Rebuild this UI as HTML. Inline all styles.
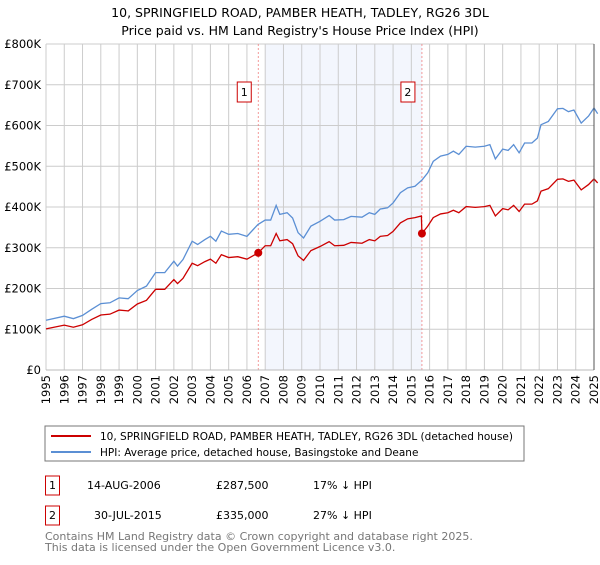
<!DOCTYPE html>
<html><head><meta charset="utf-8"><style>
body{margin:0;background:#fff;font-family:"Liberation Sans","DejaVu Sans",sans-serif;}
svg text{font-family:"DejaVu Sans","Liberation Sans",sans-serif;}
</style></head><body>
<svg id="c" width="600" height="560" viewBox="0 0 600 560">
<text x="300" y="17" text-anchor="middle" font-size="12.5">10, SPRINGFIELD ROAD, PAMBER HEATH, TADLEY, RG26 3DL</text>
<text x="300" y="35" text-anchor="middle" font-size="12.5">Price paid vs. HM Land Registry's House Price Index (HPI)</text>
<g id="plot"></g>
<rect x="45" y="426" width="479" height="35" fill="#fff" stroke="#777"/>
<line x1="51" y1="436" x2="91" y2="436" stroke="#cc0000" stroke-width="2"/>
<text x="100" y="440" font-size="10.5">10, SPRINGFIELD ROAD, PAMBER HEATH, TADLEY, RG26 3DL (detached house)</text>
<line x1="51" y1="452" x2="91" y2="452" stroke="#5b8fd4" stroke-width="2"/>
<text x="100" y="456" font-size="10.5">HPI: Average price, detached house, Basingstoke and Deane</text>
<rect x="45.5" y="476" width="14" height="19" fill="#fff" stroke="#cc0000"/>
<text x="52.5" y="489" text-anchor="middle" font-size="11">1</text>
<text x="87" y="489" font-size="11">14-AUG-2006</text>
<text x="216" y="489" font-size="11">£287,500</text>
<text x="313" y="489" font-size="11">17% ↓ HPI</text>
<rect x="45.5" y="506" width="14" height="19" fill="#fff" stroke="#cc0000"/>
<text x="52.5" y="519" text-anchor="middle" font-size="11">2</text>
<text x="94" y="519" font-size="11">30-JUL-2015</text>
<text x="216" y="519" font-size="11">£335,000</text>
<text x="313" y="519" font-size="11">27% ↓ HPI</text>
<text x="45" y="540" font-size="11" fill="#777">Contains HM Land Registry data © Crown copyright and database right 2025.</text>
<text x="45" y="551" font-size="11" fill="#777">This data is licensed under the Open Government Licence v3.0.</text>
</svg>
<script>
const hpiYears=[1995,1996,1996.5,1997,1997.5,1998,1998.5,1999,1999.5,2000,2000.5,2001,2001.5,2002,2002.2,2002.5,2003,2003.3,2003.7,2004,2004.3,2004.6,2005,2005.5,2006,2006.6,2007,2007.3,2007.6,2007.8,2008.2,2008.5,2008.8,2009.1,2009.5,2010,2010.5,2010.8,2011.3,2011.7,2012.3,2012.7,2013,2013.3,2013.7,2014,2014.4,2014.8,2015.2,2015.6,2015.9,2016.2,2016.6,2017,2017.3,2017.6,2018,2018.5,2019,2019.3,2019.6,2020,2020.3,2020.6,2020.9,2021.2,2021.6,2021.9,2022.1,2022.5,2023,2023.3,2023.6,2023.9,2024.3,2024.7,2025,2025.2];
const hpiValues=[122,132,126,134,149,163,165,177,175,195,206,239,239,267,255,271,316,308,320,328,316,341,333,335,328,357,368,368,404,382,386,373,337,324,353,365,379,368,369,377,375,386,382,395,398,410,435,447,451,467,484,512,525,529,537,529,549,547,549,553,518,542,539,553,533,557,557,569,602,610,641,642,634,638,606,623,643,629];
const priceYears=[1995,1996,1996.5,1997,1997.5,1998,1998.5,1999,1999.5,2000,2000.5,2001,2001.5,2002,2002.2,2002.5,2003,2003.3,2003.7,2004,2004.3,2004.6,2005,2005.5,2006,2006.62,2007,2007.3,2007.6,2007.8,2008.2,2008.5,2008.8,2009.1,2009.5,2010,2010.5,2010.8,2011.3,2011.7,2012.3,2012.7,2013,2013.3,2013.7,2014,2014.4,2014.8,2015.2,2015.55,2015.58,2015.9,2016.2,2016.6,2017,2017.3,2017.6,2018,2018.5,2019,2019.3,2019.6,2020,2020.3,2020.6,2020.9,2021.2,2021.6,2021.9,2022.1,2022.5,2023,2023.3,2023.6,2023.9,2024.3,2024.7,2025,2025.2];
const priceValues=[101,110,105,111,124,135,137,147,145,162,171,198,198,222,212,225,262,256,266,272,262,283,276,278,272,287.5,305,305,335,317,320,310,280,269,293,303,315,305,306,313,311,320,317,328,330,340,361,371,374,378,335,353,374,383,386,392,386,401,399,401,404,378,396,393,404,389,407,407,415,439,445,468,469,463,466,442,455,469,459];
const saleYears=[2006.62,2015.58];
const saleValues=[287.5,335];
const saleLabels=["1","2"];
const yTicks=[0,100,200,300,400,500,600,700,800];
const yTickLabels=["£0","£100K","£200K","£300K","£400K","£500K","£600K","£700K","£800K"];
const xTicks=[1995,1996,1997,1998,1999,2000,2001,2002,2003,2004,2005,2006,2007,2008,2009,2010,2011,2012,2013,2014,2015,2016,2017,2018,2019,2020,2021,2022,2023,2024,2025];

const L=46,R=594,T=44,B=370;
const xs=y=>L+(y-1995)/30*(R-L);
const ys=v=>B-v/800*(B-T);
const g=document.getElementById('plot');
const NS='http://www.w3.org/2000/svg';
function mk(tag,attrs){const e=document.createElementNS(NS,tag);for(const k in attrs)e.setAttribute(k,attrs[k]);g.appendChild(e);return e;}

let sh=mk('rect',{x:xs(2007),y:T,width:xs(saleYears[1])-xs(2007),height:B-T,fill:'#f3f6fd'});


yTicks.forEach((v,i)=>{
  let l=mk('line',{x1:L,x2:R,y1:ys(v),y2:ys(v),stroke:'#cccccc','stroke-width':1});
  
  
  let t=mk('text',{x:L-5,y:ys(v)+4,'text-anchor':'end','font-size':11.5});
  t.textContent=yTickLabels[i];
  
  
});
xTicks.forEach(yr=>{
  let l=mk('line',{x1:xs(yr),x2:xs(yr),y1:T,y2:B,stroke:'#cccccc','stroke-width':1});
  
  
  let t=mk('text',{x:0,y:0,'text-anchor':'end','font-size':11.5,transform:`translate(${xs(yr)+4},${B+5}) rotate(-90)`});
  t.textContent=yr;
  
  
});
saleYears.forEach((yr,i)=>{
  let l=mk('line',{x1:xs(yr),x2:xs(yr),y1:T,y2:B,stroke:'#f08080','stroke-width':0.8,'stroke-dasharray':'2,2'});
  
  
  let r=mk('rect',{x:xs(yr)-21,y:T+38,width:14,height:20,fill:'#fff',stroke:'#cc0000'});
  
  
  let t=mk('text',{x:xs(yr)-14,y:T+52,'text-anchor':'middle','font-size':11});
  t.textContent=saleLabels[i];
  
  
});
let hp=mk('polyline',{points:hpiYears.map((y,i)=>xs(y)+','+ys(hpiValues[i])).join(' '),fill:'none',stroke:'#5b8fd4','stroke-width':1.3});


let pp=mk('polyline',{points:priceYears.map((y,i)=>xs(y)+','+ys(priceValues[i])).join(' '),fill:'none',stroke:'#cc0000','stroke-width':1.3});


saleYears.forEach((yr,i)=>{
  let c=mk('circle',{cx:xs(yr),cy:ys(saleValues[i]),r:4,fill:'#cc0000'});
  
  
});
let ax=mk('line',{x1:L,x2:R,y1:B,y2:B,stroke:'#bbb','stroke-width':1});


let rb=mk('line',{x1:R,x2:R,y1:T,y2:B,stroke:'#555','stroke-width':1});


</script>
</body></html>
